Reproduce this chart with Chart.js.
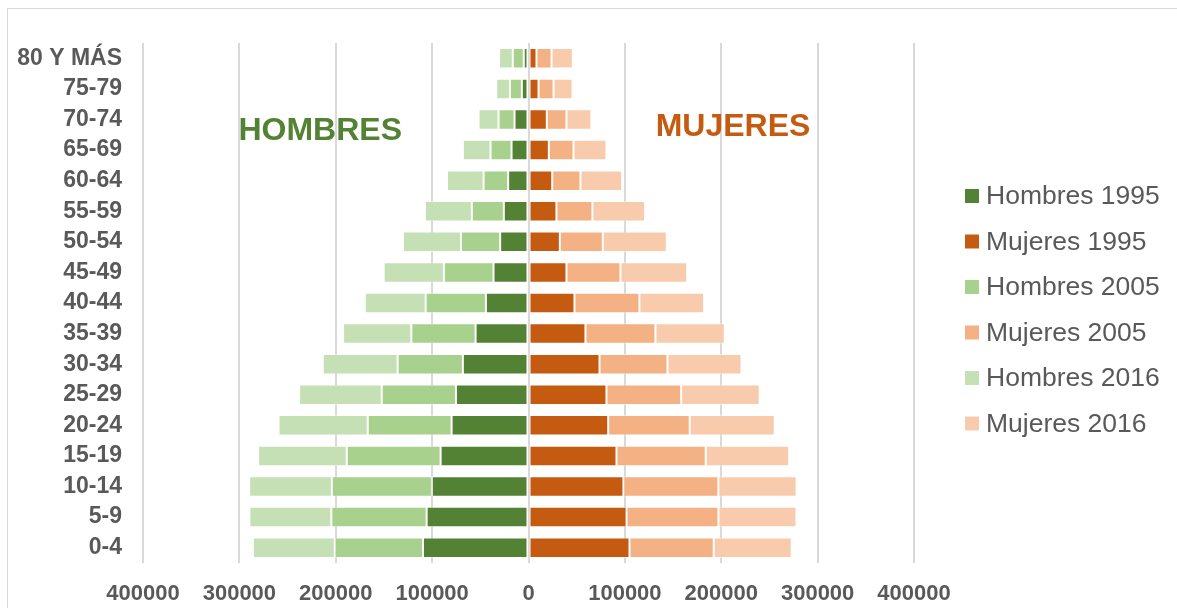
<!DOCTYPE html>
<html>
<head>
<meta charset="utf-8">
<title>Pirámide de población</title>
<script src="https://cdn.jsdelivr.net/npm/chart.js@4.4.1/dist/chart.umd.min.js"></script>
<style>
  html, body { margin: 0; padding: 0; background: #ffffff; overflow: hidden; }
  #frame { position: absolute; left: 7px; top: 8px; width: 1300px; height: 700px; border: 1px solid #D9D9D9; box-sizing: border-box; }
  #wrap { position: absolute; left: 0; top: 0; width: 1177px; height: 608px; }
</style>
</head>
<body>
<div id="frame"></div>
<div id="wrap"><canvas id="chart" width="1177" height="608"></canvas></div>
<script>
// Age groups, top of the pyramid first
const ageGroups = ['80 Y MÁS', '75-79', '70-74', '65-69', '60-64', '55-59', '50-54', '45-49',
  '40-44', '35-39', '30-34', '25-29', '20-24', '15-19', '10-14', '5-9', '0-4'];

// Population per age group (stacked per year)
const hombres1995 = [4900, 6900, 14500, 17600, 21100, 25600, 29400, 36300, 44200, 54900, 68100, 75300, 79800, 91200, 100200, 105700, 109500];
const hombres2005 = [11400, 12400, 16600, 21800, 25500, 33200, 40700, 51500, 62500, 66700, 67700, 77000, 87000, 97400, 103900, 98900, 91500];
const hombres2016 = [14200, 14200, 20700, 28700, 38000, 48700, 60100, 62500, 63200, 70800, 77700, 85700, 92600, 91900, 85700, 85000, 85000];
const mujeres1995 = [8300, 10400, 19000, 21100, 24600, 29000, 32500, 39400, 47700, 59100, 73700, 80900, 82700, 91300, 98500, 101700, 104800];
const mujeres2005 = [15600, 15600, 20400, 25600, 29300, 37300, 44600, 56000, 67400, 72600, 70500, 77500, 84600, 92600, 98500, 95400, 87400];
const mujeres2016 = [22100, 19700, 25900, 34200, 43300, 54700, 66400, 69200, 67100, 71900, 76800, 81500, 88200, 86500, 81200, 80900, 80900];

// Axis ticks
const xMin = -400000;
const xMax = 400000;
const xStep = 100000;

const FONT = '"Liberation Sans", Arial, Helvetica, sans-serif';
const TEXT = '#595959';

const palette = {
  h1995: '#548235', m1995: '#C55A11',
  h2005: '#A9D18E', m2005: '#F4B183',
  h2016: '#C5E0B4', m2016: '#F8CBAD'
};

const neg = arr => arr.map(v => -v);

function series(label, data, color) {
  return {
    label: label,
    data: data,
    backgroundColor: color,
    borderColor: 'rgba(255,255,255,0.5)',
    borderWidth: 1,
    borderSkipped: false,
    categoryPercentage: 1.0,
    barPercentage: 0.67
  };
}

// Legend drawn at the right of the plot
const sideLegend = {
  id: 'sideLegend',
  afterDraw(chart) {
    const ctx = chart.ctx;
    ctx.save();
    ctx.font = '26.5px ' + FONT;
    ctx.textBaseline = 'middle';
    ctx.textAlign = 'left';
    chart.data.datasets.forEach((ds, i) => {
      const cy = 196 + i * 45.5;
      ctx.fillStyle = ds.backgroundColor;
      ctx.fillRect(965, cy - 7, 14, 14);
      ctx.fillStyle = TEXT;
      ctx.fillText(ds.label, 986, cy + 1);
    });
    ctx.restore();
  }
};

// Side captions over the plot
const sideCaptions = {
  id: 'sideCaptions',
  afterDatasetsDraw(chart) {
    const ctx = chart.ctx;
    const x = chart.scales.x;
    ctx.save();
    ctx.font = 'bold 32px ' + FONT;
    ctx.textBaseline = 'middle';
    ctx.textAlign = 'left';
    ctx.fillStyle = palette.h1995;
    ctx.fillText('HOMBRES', x.getPixelForValue(-301000), 131);
    ctx.fillStyle = palette.m1995;
    ctx.fillText('MUJERES', x.getPixelForValue(132000), 127);
    ctx.restore();
  }
};

new Chart(document.getElementById('chart'), {
  type: 'bar',
  data: {
    labels: ageGroups,
    datasets: [
      series('Hombres 1995', neg(hombres1995), palette.h1995),
      series('Mujeres 1995', mujeres1995, palette.m1995),
      series('Hombres 2005', neg(hombres2005), palette.h2005),
      series('Mujeres 2005', mujeres2005, palette.m2005),
      series('Hombres 2016', neg(hombres2016), palette.h2016),
      series('Mujeres 2016', mujeres2016, palette.m2016)
    ]
  },
  options: {
    indexAxis: 'y',
    responsive: false,
    animation: false,
    layout: { padding: { left: 0, top: 43, right: 263, bottom: 0 } },
    plugins: {
      legend: { display: false },
      tooltip: { enabled: false }
    },
    scales: {
      x: {
        stacked: true,
        min: xMin,
        max: xMax,
        afterFit(scale) { scale.height = 45; },
        ticks: {
          stepSize: xStep,
          padding: 18,
          color: TEXT,
          font: { family: FONT, size: 22, weight: 'bold' },
          callback: v => String(Math.abs(v))
        },
        grid: { color: '#D9D9D9', lineWidth: 2, drawTicks: false },
        border: { display: false }
      },
      y: {
        stacked: true,
        afterFit(scale) { scale.width = 143; },
        ticks: {
          autoSkip: false,
          padding: 21,
          color: TEXT,
          font: { family: FONT, size: 23, weight: 'bold' }
        },
        grid: { display: false, drawTicks: false },
        border: { display: false }
      }
    }
  },
  plugins: [sideCaptions, sideLegend]
});
</script>
</body>
</html>
